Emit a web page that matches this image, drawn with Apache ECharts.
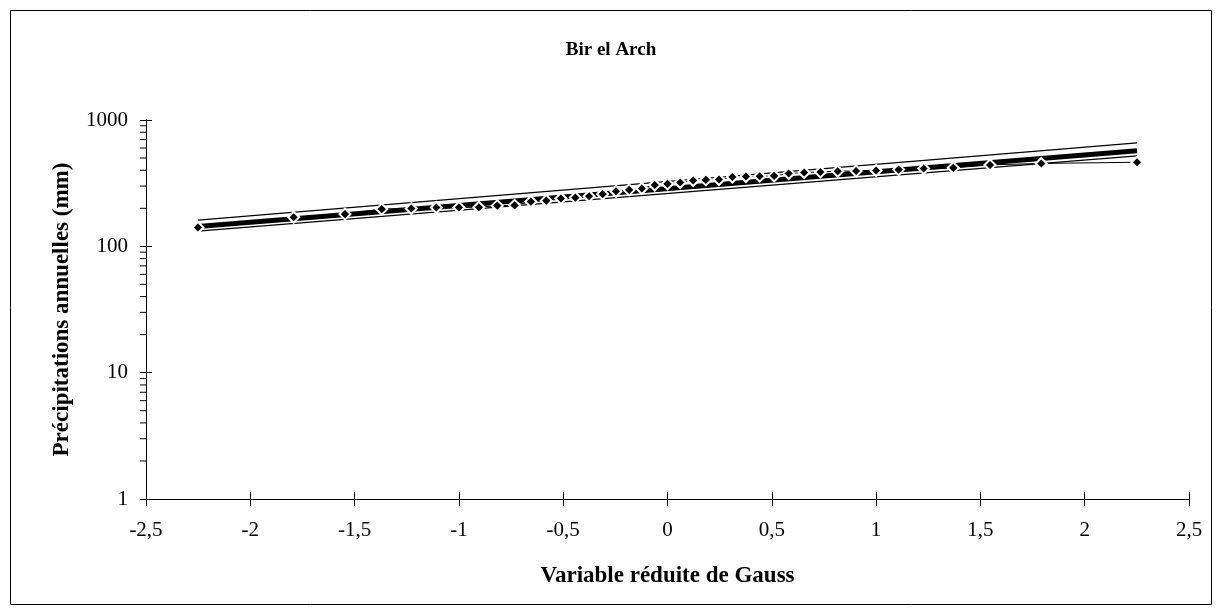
<!DOCTYPE html>
<html>
<head>
<meta charset="utf-8">
<script src="https://cdn.jsdelivr.net/npm/echarts@6/dist/echarts.min.js"></script>
<style>
  html, body { margin: 0; padding: 0; background: #fff; }
  #chart { width: 1222px; height: 615px; }
</style>
</head>
<body>
<div id="chart"></div>
<script>
// ---- data ----
const chartTitle = 'Bir el Arch';
const xAxisTitle = 'Variable réduite de Gauss';
const yAxisTitle = 'Précipitations annuelles (mm)';

// Gauss reduced variable of each observation
const gaussX = [-2.251, -1.792, -1.546, -1.370, -1.228, -1.108, -1.000, -0.904, -0.816, -0.733,
                -0.655, -0.581, -0.511, -0.442, -0.376, -0.311, -0.247, -0.184, -0.123, -0.061,
                 0.000,  0.061,  0.123,  0.184,  0.247,  0.311,  0.376,  0.442,  0.511,  0.581,
                 0.655,  0.733,  0.816,  0.904,  1.000,  1.108,  1.228,  1.370,  1.546,  1.792,
                 2.251];
// observed annual precipitation (mm)
const precip = [141, 170, 180, 197, 199, 203, 203, 204, 210, 211,
                226, 230, 239, 243, 249, 259, 273, 280, 287, 306,
                312, 320, 332, 336, 338, 354, 357, 359, 361, 377,
                384, 388, 393, 395, 398, 405, 413, 418, 441, 453,
                463];

// fitted law and confidence bounds (end points)
const fitX = [-2.251, 2.251];
const fitY = [143.5, 571];
const upperY = [161, 659];
const lowerY = [131.7, 520];

// axis ticks
const xTicks = [-2.5, -2, -1.5, -1, -0.5, 0, 0.5, 1, 1.5, 2, 2.5];
const yMajorTicks = [1, 10, 100, 1000];
const yMinorTicks = [2, 3, 4, 5, 6, 7, 8, 9, 20, 30, 40, 50, 60, 70, 80, 90, 200, 300, 400, 500, 600, 700, 800, 900];

// ---- chart ----
const FONT = '"Liberation Serif", "Times New Roman", serif';
const xMin = xTicks[0], xMax = xTicks[xTicks.length - 1];
const yMin = yMajorTicks[0], yMax = yMajorTicks[yMajorTicks.length - 1];

const pairs = (xs, ys) => xs.map((x, i) => [x, ys[i]]);

const chart = echarts.init(document.getElementById('chart'), null, { renderer: 'canvas' });

const commonX = {
  type: 'value', min: xMin, max: xMax, interval: 0.5,
  position: 'bottom', splitLine: { show: false },
  axisLine: { onZero: false, lineStyle: { color: '#000', width: 1 } }
};
const commonY = {
  type: 'log', logBase: 10, min: yMin, max: yMax,
  position: 'left', splitLine: { show: false },
  axisLine: { onZero: false, lineStyle: { color: '#000', width: 1 } }
};

chart.setOption({
  animation: false,
  backgroundColor: '#fff',
  title: {
    text: chartTitle, left: 'center', top: 36,
    textStyle: { fontFamily: FONT, fontWeight: 'bold', fontSize: 19, color: '#000' }
  },
  graphic: [{
    type: 'rect', silent: true, z: -1,
    shape: { x: 10.5, y: 10.5, width: 1201, height: 594 },
    style: { fill: null, stroke: '#000', lineWidth: 1 }
  }],
  grid: { left: 146, top: 120, width: 1043, height: 379, containLabel: false },
  xAxis: [
    Object.assign({}, commonX, {
      name: xAxisTitle, nameLocation: 'middle', nameGap: 66,
      nameTextStyle: { fontFamily: FONT, fontWeight: 'bold', fontSize: 23, color: '#000' },
      axisTick: { show: true, inside: false, length: 7, lineStyle: { color: '#000' } },
      axisLabel: {
        fontFamily: FONT, fontSize: 21, color: '#000', margin: 21,
        formatter: v => String(v).replace('.', ',')
      }
    }),
    Object.assign({}, commonX, {
      axisTick: { show: true, inside: true, length: 7, lineStyle: { color: '#000' } },
      axisLabel: { show: false }
    })
  ],
  yAxis: [
    Object.assign({}, commonY, {
      name: yAxisTitle, nameLocation: 'middle', nameGap: 72,
      nameTextStyle: { fontFamily: FONT, fontWeight: 'bold', fontSize: 23, color: '#000' },
      axisTick: { show: true, inside: false, length: 6, lineStyle: { color: '#000' } },
      axisLabel: { fontFamily: FONT, fontSize: 21, color: '#000', margin: 18, formatter: v => String(v) }
    }),
    Object.assign({}, commonY, {
      axisTick: { show: true, inside: true, length: 6, lineStyle: { color: '#000' } },
      axisLabel: { show: false }
    })
  ],
  series: [
    {
      type: 'custom', name: 'minorTicks', clip: false, silent: true, z: 1,
      xAxisIndex: 0, yAxisIndex: 0,
      data: yMinorTicks.map(v => [xMin, v]),
      renderItem: (params, api) => {
        const p = api.coord([api.value(0), api.value(1)]);
        return {
          type: 'line',
          shape: { x1: p[0] - 6, y1: p[1], x2: p[0], y2: p[1] },
          style: { stroke: '#000', lineWidth: 1 }
        };
      }
    },
    {
      type: 'line', name: 'observed-line', data: pairs(gaussX, precip),
      showSymbol: false, symbol: 'none', z: 2,
      lineStyle: { color: '#000', width: 1 }
    },
    {
      type: 'line', name: 'upper', data: pairs(fitX, upperY),
      showSymbol: false, symbol: 'none', z: 2,
      lineStyle: { color: '#000', width: 1.3 }
    },
    {
      type: 'line', name: 'lower', data: pairs(fitX, lowerY),
      showSymbol: false, symbol: 'none', z: 2,
      lineStyle: { color: '#000', width: 1.3 }
    },
    {
      type: 'line', name: 'fit', data: pairs(fitX, fitY),
      showSymbol: false, symbol: 'none', z: 3,
      lineStyle: { color: '#000', width: 5 }
    },
    {
      type: 'scatter', name: 'observed', data: pairs(gaussX, precip), z: 4,
      symbol: 'diamond', symbolSize: 11,
      itemStyle: { color: '#000', borderColor: '#fff', borderWidth: 2, opacity: 1 }
    }
  ]
});
</script>
</body>
</html>
